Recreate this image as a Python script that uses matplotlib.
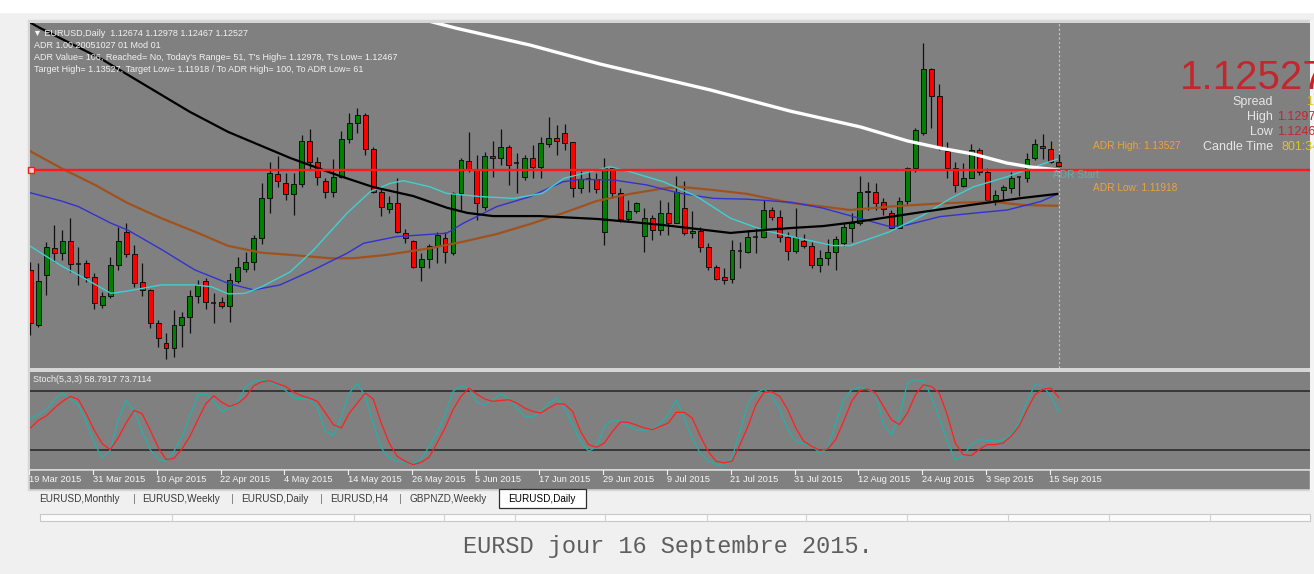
import matplotlib.pyplot as plt
from matplotlib.patches import Rectangle
from matplotlib.transforms import Affine2D, blended_transform_factory
import numpy as np

# ---- data -------------------------------------------------------------
dates = ["19 Mar 2015", "31 Mar 2015", "10 Apr 2015", "22 Apr 2015", "4 May 2015",
         "14 May 2015", "26 May 2015", "5 Jun 2015", "17 Jun 2015", "29 Jun 2015",
         "9 Jul 2015", "21 Jul 2015", "31 Jul 2015", "12 Aug 2015", "24 Aug 2015",
         "3 Sep 2015", "15 Sep 2015"]

opens = [1.0858, 1.0649, 1.0839, 1.0942, 1.0921, 1.0968, 1.0883, 1.0885, 1.0832, 1.0725,
         1.0759, 1.0877, 1.1003, 1.0918, 1.0813, 1.0782, 1.0656, 1.0582, 1.0563, 1.0649,
         1.0681, 1.0760, 1.0817, 1.0735, 1.0735, 1.0721, 1.0817, 1.0860, 1.0889, 1.0980,
         1.1129, 1.1222, 1.1189, 1.1146, 1.1184, 1.1347, 1.1268, 1.1196, 1.1155, 1.1209,
         1.1353, 1.1414, 1.1445, 1.1315, 1.1155, 1.1089, 1.1113, 1.0999, 1.0968, 1.0870,
         1.0899, 1.0949, 1.0978, 1.0921, 1.1151, 1.1271, 1.1239, 1.1095, 1.1290, 1.1281,
         1.1323, 1.1262, 1.1209, 1.1281, 1.1247, 1.1335, 1.1357, 1.1376, 1.1342, 1.1167,
         1.1202, 1.1202, 1.1003, 1.1243, 1.1148, 1.1050, 1.1082, 1.0987, 1.1056, 1.1009,
         1.1073, 1.1037, 1.1092, 1.0997, 1.1006, 1.0946, 1.0870, 1.0830, 1.0824, 1.0930,
         1.0927, 1.0982, 1.0982, 1.1085, 1.1060, 1.0982, 1.0930, 1.0968, 1.0950, 1.0877,
         1.0904, 1.0925, 1.0959, 1.1018, 1.1035, 1.1158, 1.1152, 1.1117, 1.1073, 1.1018,
         1.1119, 1.1243, 1.1376, 1.1620, 1.1517, 1.1309, 1.1243, 1.1177, 1.1208, 1.1313,
         1.1228, 1.1123, 1.1161, 1.1170, 1.1208, 1.1208, 1.1281, 1.1328, 1.1316, 1.12674]
highs = [1.0888, 1.0884, 1.0965, 1.1028, 1.1009, 1.1054, 1.0946, 1.0896, 1.0845, 1.0776,
         1.0908, 1.1022, 1.1035, 1.0952, 1.0883, 1.0785, 1.0668, 1.0618, 1.0706, 1.0700,
         1.0782, 1.0820, 1.0826, 1.0769, 1.0756, 1.0845, 1.0908, 1.0927, 1.0990, 1.1186,
         1.1268, 1.1290, 1.1224, 1.1224, 1.1369, 1.1391, 1.1287, 1.1205, 1.1278, 1.1386,
         1.1452, 1.1471, 1.1452, 1.1325, 1.1167, 1.1138, 1.1205, 1.1012, 1.0971, 1.0921,
         1.0956, 1.1003, 1.1003, 1.1155, 1.1281, 1.1382, 1.1294, 1.1306, 1.1347, 1.1391,
         1.1331, 1.1300, 1.1294, 1.1331, 1.1363, 1.1436, 1.1407, 1.1411, 1.1344, 1.1234,
         1.1237, 1.1224, 1.1281, 1.1249, 1.1167, 1.1123, 1.1117, 1.1092, 1.1066, 1.1123,
         1.1117, 1.1214, 1.1196, 1.1082, 1.1019, 1.0959, 1.0877, 1.0864, 1.0971, 1.0965,
         1.1009, 1.1016, 1.1123, 1.1095, 1.1085, 1.1003, 1.1092, 1.0993, 1.0963, 1.0934,
         1.0975, 1.0988, 1.1037, 1.1073, 1.1215, 1.1190, 1.1186, 1.1129, 1.1085, 1.1136,
         1.1249, 1.1395, 1.1717, 1.1622, 1.1562, 1.1344, 1.1268, 1.1262, 1.1334, 1.1319,
         1.1243, 1.1161, 1.1180, 1.1230, 1.1211, 1.1300, 1.1354, 1.1373, 1.1347, 1.12978]
lows = [1.0611, 1.0643, 1.0763, 1.0889, 1.0896, 1.0851, 1.0801, 1.0813, 1.0709, 1.0713,
        1.0750, 1.0858, 1.0908, 1.0794, 1.0759, 1.0637, 1.0567, 1.0519, 1.0529, 1.0567,
        1.0620, 1.0732, 1.0709, 1.0658, 1.0713, 1.0662, 1.0810, 1.0851, 1.0858, 1.0956,
        1.1073, 1.1173, 1.1123, 1.1066, 1.1173, 1.1237, 1.1180, 1.1129, 1.1136, 1.1205,
        1.1338, 1.1376, 1.1294, 1.1148, 1.1062, 1.1075, 1.0997, 1.0959, 1.0864, 1.0816,
        1.0864, 1.0883, 1.0883, 1.0915, 1.1085, 1.1230, 1.1047, 1.1085, 1.1211, 1.1256,
        1.1180, 1.1151, 1.1199, 1.1205, 1.1205, 1.1325, 1.1294, 1.1313, 1.1136, 1.1151,
        1.1155, 1.1148, 1.0952, 1.1129, 1.1041, 1.1041, 1.1073, 1.0927, 1.0971, 1.0990,
        1.0990, 1.1035, 1.0990, 1.0978, 1.0927, 1.0858, 1.0820, 1.0805, 1.0810, 1.0864,
        1.0921, 1.0921, 1.0978, 1.1047, 1.0965, 1.0896, 1.0921, 1.0940, 1.0864, 1.0849,
        1.0877, 1.0858, 1.0950, 1.0965, 1.1028, 1.1085, 1.1085, 1.1066, 1.1016, 1.1016,
        1.1104, 1.1230, 1.1369, 1.1397, 1.1313, 1.1205, 1.1155, 1.1173, 1.1205, 1.1218,
        1.1117, 1.1104, 1.1123, 1.1148, 1.1138, 1.1192, 1.1275, 1.1278, 1.1262, 1.12467]
closes = [1.0657, 1.0817, 1.0946, 1.0923, 1.0968, 1.0880, 1.0882, 1.0832, 1.0732, 1.0759,
          1.0877, 1.0968, 1.0918, 1.0810, 1.0782, 1.0656, 1.0599, 1.0563, 1.0649, 1.0681,
          1.0760, 1.0801, 1.0735, 1.0734, 1.0722, 1.0820, 1.0870, 1.0889, 1.0980, 1.1129,
          1.1224, 1.1195, 1.1146, 1.1184, 1.1347, 1.1268, 1.1211, 1.1155, 1.1209, 1.1353,
          1.1414, 1.1445, 1.1315, 1.1155, 1.1095, 1.1113, 1.1003, 1.0980, 1.0870, 1.0899,
          1.0949, 1.0990, 1.0927, 1.1148, 1.1275, 1.1239, 1.1113, 1.1290, 1.1281, 1.1323,
          1.1256, 1.1263, 1.1281, 1.1247, 1.1338, 1.1357, 1.1347, 1.1340, 1.1167, 1.1202,
          1.1201, 1.1164, 1.1245, 1.1148, 1.1050, 1.1082, 1.1113, 1.1056, 1.1009, 1.1073,
          1.1037, 1.1155, 1.0999, 1.1006, 1.0946, 1.0870, 1.0824, 1.0820, 1.0934, 1.0931,
          1.0982, 1.0981, 1.1085, 1.1060, 1.0982, 1.0930, 1.0984, 1.0950, 1.0877, 1.0904,
          1.0925, 1.0975, 1.1022, 1.1037, 1.1155, 1.1152, 1.1110, 1.1089, 1.1018, 1.1119,
          1.1243, 1.1388, 1.1620, 1.1517, 1.1319, 1.1243, 1.1180, 1.1208, 1.1313, 1.1228,
          1.1123, 1.1142, 1.1173, 1.1205, 1.1209, 1.1278, 1.1336, 1.1319, 1.1268, 1.12527]

# moving averages, read at points along each line (bar index, price)
white_bar = [49, 53.3, 62.7, 71.5, 85.3, 95.3, 104.1, 110.0, 114.1, 118.3, 122.5, 125.4, 128.9]
white_ma = [1.1809, 1.1775, 1.1710, 1.1638, 1.1540, 1.1460, 1.1400, 1.1347, 1.1320,
            1.1297, 1.1263, 1.1248, 1.1237]
black_bar = [-1.3, 1.2, 8.7, 15.4, 20.0, 24.8, 32.6, 38.8, 43.0, 48.0, 52.3, 54.8, 58.0,
             63.9, 71.1, 75.2, 79.4, 83.6, 87.8, 91.9, 95.5, 99.4, 103.7, 107.8, 112.0,
             117.9, 124.5, 128.8]
black_ma = [1.1817, 1.1775, 1.1661, 1.1540, 1.1457, 1.1381, 1.1282, 1.1214, 1.1172, 1.1138,
            1.1093, 1.1074, 1.1062, 1.1062, 1.1051, 1.1040, 1.1028, 1.1013, 1.0998, 1.1009,
            1.1017, 1.1024, 1.1040, 1.1059, 1.1078, 1.1104, 1.1131, 1.1146]
brown_bar = [-0.1, 3.9, 8.1, 12.2, 16.4, 20.6, 24.8, 29.0, 32.6, 37.6, 40.5, 44.7, 50.1,
             54.3, 58.5, 62.7, 66.8, 71.0, 75.2, 79.4, 81.5, 85.6, 89.9, 95.3, 99.4, 102.8,
             107.8, 114.1, 120.4, 124.5, 128.8]
brown_ma = [1.1309, 1.1243, 1.1180, 1.1111, 1.1054, 1.1003, 1.0949, 1.0923, 1.0915, 1.0902,
            1.0902, 1.0915, 1.0940, 1.0965, 1.0994, 1.1032, 1.1073, 1.1119, 1.1146, 1.1167,
            1.1173, 1.1161, 1.1146, 1.1112, 1.1098, 1.1085, 1.1098, 1.1110, 1.1117, 1.1104,
            1.1101]
blue_bar = [-0.1, 3.9, 6.0, 10.1, 12.2, 16.4, 20.6, 24.8, 28.0, 31.3, 35.5, 39.7, 41.8,
            45.9, 52.2, 54.3, 58.5, 62.7, 66.8, 68.9, 73.1, 77.3, 81.5, 85.7, 89.9, 95.5,
            99.4, 103.7, 107.8, 109.9, 114.1, 118.3, 122.5, 126.7, 128.8]
blue_ma = [1.1151, 1.1119, 1.1098, 1.1035, 1.1009, 1.0936, 1.0858, 1.0807, 1.0782, 1.0801,
           1.0858, 1.0921, 1.0959, 1.0984, 1.0997, 1.1035, 1.1098, 1.1136, 1.1192, 1.1201,
           1.1199, 1.1180, 1.1148, 1.1129, 1.1126, 1.1114, 1.1092, 1.1056, 1.1022, 1.1028,
           1.1060, 1.1073, 1.1085, 1.1117, 1.1145]
cyan_bar = [-0.1, 3.9, 6.0, 10.1, 12.2, 16.4, 20.6, 22.7, 24.8, 26.9, 29.0, 32.6, 35.5,
            39.7, 42.6, 45.1, 46.8, 50.1, 52.2, 56.4, 60.6, 64.2, 66.9, 70.2, 72.7, 75.2,
            79.4, 83.6, 87.8, 91.9, 95.5, 100.7, 102.8, 107.8, 112.0, 115.4, 118.3, 122.5,
            125.4, 128.8]
cyan_ma = [1.0949, 1.0873, 1.0839, 1.0769, 1.0778, 1.0801, 1.0801, 1.0794, 1.0767, 1.0769,
           1.0794, 1.0851, 1.0933, 1.1073, 1.1154, 1.1186, 1.1196, 1.1173, 1.1148, 1.1136,
           1.1129, 1.1148, 1.1205, 1.1230, 1.1249, 1.1230, 1.1192, 1.1136, 1.1054, 1.1009,
           1.0984, 1.0950, 1.0950, 1.1003, 1.1066, 1.1129, 1.1173, 1.1211, 1.1243, 1.1278]

hline_price = 1.1237

stoch_main = [52.6, 56.0, 61.1, 71.4, 78.3, 72.1, 66.3, 49.1, 26.8, 11.4,
              19.3, 50.8, 70.7, 59.4, 38.8, 20.0, 10.4, 7.6, 18.3, 33.7,
              54.3, 76.5, 77.6, 69.7, 59.4, 62.8, 68.7, 85.1, 90.3, 92.0,
              90.3, 85.8, 81.0, 73.1, 72.4, 71.7, 62.8, 38.8, 34.4, 54.3,
              78.3, 88.5, 74.8, 47.4, 21.7, 11.4, 8.0, 6.9, 5.6, 9.7,
              23.4, 37.1, 56.0, 80.0, 85.8, 83.4, 68.7, 66.3, 71.4, 77.6,
              72.1, 62.8, 54.3, 53.6, 59.4, 68.0, 73.1, 62.8, 45.7, 28.6,
              18.3, 22.7, 44.0, 50.8, 49.1, 44.0, 40.5, 39.9, 41.2, 46.7,
              56.0, 71.4, 52.6, 32.0, 16.5, 8.7, 4.5, 3.5, 11.4, 38.8,
              68.0, 78.3, 82.4, 74.8, 61.1, 40.5, 28.6, 26.1, 24.1, 16.5,
              21.7, 47.4, 71.4, 81.7, 84.4, 81.7, 78.3, 45.7, 35.4, 54.3,
              88.5, 92.0, 91.3, 74.8, 52.6, 28.6, 9.7, 13.1, 25.1, 30.3,
              29.6, 28.6, 30.3, 35.4, 47.4, 69.7, 86.8, 85.8, 74.8, 58.79]
stoch_signal = [42.3, 50.1, 54.9, 62.8, 69.7, 74.8, 71.7, 57.0, 39.9, 26.1,
                20.0, 32.0, 47.4, 60.4, 57.0, 40.5, 22.7, 9.7, 11.0, 20.6,
                33.7, 50.8, 67.3, 75.5, 68.7, 64.5, 67.6, 74.1, 85.8, 89.9,
                91.0, 87.9, 85.1, 79.3, 75.5, 73.1, 69.7, 57.7, 45.7, 42.3,
                57.7, 68.0, 78.3, 72.1, 47.4, 26.8, 13.1, 8.0, 4.5, 6.9,
                12.1, 26.8, 42.3, 61.1, 74.8, 83.4, 77.2, 72.1, 69.7, 70.7,
                71.4, 68.0, 62.8, 59.4, 57.7, 62.8, 67.3, 66.9, 59.4, 38.8,
                25.1, 22.4, 26.8, 38.8, 48.4, 48.1, 45.3, 42.3, 40.5, 44.0,
                47.4, 58.4, 58.4, 52.6, 34.4, 18.3, 8.0, 6.3, 8.0, 25.1,
                44.0, 66.3, 78.9, 79.6, 74.8, 61.1, 42.3, 28.6, 23.4, 19.3,
                20.6, 30.3, 49.1, 69.7, 81.0, 82.4, 78.3, 64.5, 50.8, 45.7,
                57.7, 76.5, 86.8, 85.1, 78.3, 56.0, 26.8, 14.8, 13.8, 20.0,
                25.1, 25.1, 26.8, 33.7, 44.0, 61.1, 76.5, 82.4, 83.4, 73.71]

tabs = ["EURUSD,Monthly", "EURUSD,Weekly", "EURUSD,Daily", "EURUSD,H4", "GBPNZD,Weekly"]
tab_x = [39, 142, 241, 330, 409]

# ---- figure -------------------------------------------------------------
W, H = 1314, 574
fig = plt.figure(figsize=(W / 100, H / 100), dpi=100)
fig.patch.set_facecolor("#f0f0f0")
pix = Affine2D().scale(1 / W, -1 / H).translate(0, 1) + fig.transFigure


def box(x0, y0, x1, y1):
    return [x0 / W, 1 - y1 / H, (x1 - x0) / W, (y1 - y0) / H]


def rect(x0, y0, x1, y1, zorder=-2, **kw):
    fig.add_artist(Rectangle((x0, y0), x1 - x0, y1 - y0, transform=pix,
                             zorder=zorder, **kw))


# window frame and background strips (drawn below the axes)
rect(0, 0, W, 12, color="#ffffff")
rect(28, 20, 1312, 490, color="#d6d6d6")
rect(30, 471, 1310, 488, color="#808080", zorder=-1)
rect(1310, 20, W, 490, color="#f4f4f4", zorder=-1)

gray = "#808080"
ax = fig.add_axes(box(30, 23, 1310, 368))
ax2 = fig.add_axes(box(30, 372, 1310, 469))
for a in (ax, ax2):
    a.set_facecolor(gray)
    a.set_xticks([])
    a.set_yticks([])
    for s in a.spines.values():
        s.set_visible(False)
    a.set_xlim(-0.06, 160.5)

ax.set_ylim(1.0486, 1.1794)
ax2.set_ylim(0, 100)

bars = np.arange(len(opens))
o, h, l, c = map(np.array, (opens, highs, lows, closes))
ax.vlines(bars, l, h, color="#101010", lw=0.9, zorder=2)
doji = np.abs(c - o) < 0.00015
up = (c > o) & ~doji
dn = (c < o) & ~doji
bw = 0.62
ax.bar(bars[up], (c - o)[up], bottom=o[up], width=bw, color="#008000",
       edgecolor="#101010", lw=0.7, zorder=3)
ax.bar(bars[dn], (o - c)[dn], bottom=c[dn], width=bw, color="#ff0000",
       edgecolor="#101010", lw=0.7, zorder=3)
ax.hlines(c[doji], bars[doji] - bw / 2, bars[doji] + bw / 2, color="#101010", lw=1.1, zorder=3)

ax.plot(brown_bar, brown_ma, color="#a0521e", lw=1.6, zorder=4)
ax.plot(blue_bar, blue_ma, color="#3232d2", lw=1.0, zorder=4)
ax.plot(cyan_bar, cyan_ma, color="#3fd0d0", lw=1.0, zorder=4)
ax.plot(black_bar, black_ma, color="#000000", lw=1.6, zorder=4)
ax.plot(white_bar, white_ma, color="#ffffff", lw=2.4, zorder=4)

ax.axhline(hline_price, color="#ff1a1a", lw=1.7, zorder=5)
ax.plot([0.06], [hline_price], marker="s", ms=4, mfc="#ffd0d0", mec="#ff1a1a",
        mew=1, zorder=6, clip_on=False)
ax.axvline(len(opens) - 1, color="#c8c8c8", lw=0.8, ls=(0, (2, 2)), zorder=1)

# stochastic
ax2.axhline(80, color="#2b2b2b", lw=1.2)
ax2.axhline(20, color="#2b2b2b", lw=1.2)
ax2.plot(bars, stoch_main, color="#20b2aa", lw=0.9)
ax2.plot(bars, stoch_signal, color="#ff2020", lw=0.9)

# date axis
dtr = blended_transform_factory(ax2.transData, pix)
for i, lab in enumerate(dates):
    b = i * 8
    ax2.plot([b - 0.15, b - 0.15], [470, 474], color="#f0f0f0", lw=0.8,
             transform=dtr, clip_on=False)
    ax2.text(b - 0.2, 479.5, lab, transform=dtr, ha="left", va="center",
             fontsize=6.7, color="#f8f8f8", family="Liberation Sans", clip_on=False)

# ---- texts ---------------------------------------------------------------
sans = ["Liberation Sans", "DejaVu Sans"]


def t(x, y, s, **kw):
    kw.setdefault("family", sans)
    kw.setdefault("va", "center")
    fig.text(x, y, s, transform=pix, **kw)


info = "#f2f2f2"
t(33, 34, "\u25bc EURUSD,Daily  1.12674 1.12978 1.12467 1.12527", fontsize=6.5, color=info)
t(34, 46, "ADR 1.00 20051027 01 Mod 01", fontsize=6.5, color=info)
t(34, 58, "ADR Value= 106, Reached= No, Today's Range= 51, T's High= 1.12978, "
          "T's Low= 1.12467", fontsize=6.5, color=info)
t(34, 70, "Target High= 1.13527, Target Low= 1.11918 / To ADR High= 100, "
          "To ADR Low= 61", fontsize=6.5, color=info)
t(33, 380, "Stoch(5,3,3) 58.7917 73.7114", fontsize=6.5, color=info)

t(1180, 78, "1.12527", fontsize=29, color="#c3262c")
lab_c = "#e6e6e6"
t(1273, 102, "Spread", fontsize=9, color=lab_c, ha="right")
t(1306, 102, "1", fontsize=9, color="#d8c81e")
t(1273, 117, "High", fontsize=9, color=lab_c, ha="right")
t(1277, 117, "1.12978", fontsize=9, color="#c3262c")
t(1273, 132, "Low", fontsize=9, color=lab_c, ha="right")
t(1277, 132, "1.12467", fontsize=9, color="#c3262c")
t(1273, 147, "Candle Time", fontsize=9, color=lab_c, ha="right")
t(1282, 147, "801:34", fontsize=9, color="#d8c81e")

t(1093, 146, "ADR High: 1.13527", fontsize=7.3, color="#eea23a")
t(1093, 188, "ADR Low: 1.11918", fontsize=7.3, color="#eea23a")
t(1053, 175, "ADR Start", fontsize=7.3, color="#6fa9a9")

# tabs
for s, x in zip(tabs, tab_x):
    t(x, 498.5, s, fontsize=7.2, color="#3a3a3a")
for x in (133, 231, 320, 399):
    t(x, 498.5, "|", fontsize=8, color="#7a7a7a")
rect(499, 489, 586, 508, facecolor="#ffffff", edgecolor="#303030", lw=0.9, zorder=1)
t(508, 498.5, "EURUSD,Daily", fontsize=7.2, color="#000000")

# status bar strip
rect(40, 514, 1310, 521, facecolor="#fbfbfb", edgecolor="#c8c8c8", lw=0.8, zorder=1)
for x in (172, 354, 444, 515, 605, 707, 806, 907, 1008, 1109, 1210):
    fig.add_artist(plt.Line2D([x, x], [514, 521], transform=pix, color="#d0d0d0", lw=0.8))

t(668, 547, "EURSD jour 16 Septembre 2015.", ha="center", fontsize=17,
  color="#5e5e5e", family="Liberation Mono")

fig.savefig("out.png", dpi=100, facecolor=fig.get_facecolor())
